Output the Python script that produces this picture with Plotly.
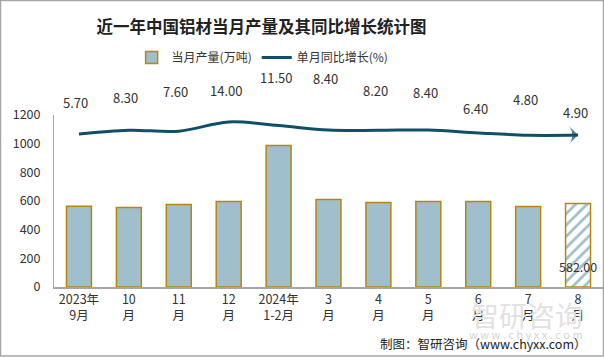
import plotly.graph_objects as go

categories = ["2023年<br>9月", "10<br>月", "11<br>月", "12<br>月", "2024年<br>1-2月",
              "3<br>月", "4<br>月", "5<br>月", "6<br>月", "7<br>月", "8<br>月"]
production = [564, 555, 576, 597, 987, 611, 590, 597, 597, 562, 582]
yoy_growth = [5.70, 8.30, 7.60, 14.00, 11.50, 8.40, 8.20, 8.40, 6.40, 4.80, 4.90]
label_lift = [31, 33, 40, 31, 48, 52, 40, 38, 24, 36, 23]

FONT = "Noto Sans CJK SC, Noto Sans, sans-serif"
BAR = "#a0bfcc"
EDGE = "#b8860b"
LINE = "#0f5068"

n = len(categories)
fig = go.Figure()
fig.add_trace(go.Bar(
    x=categories, y=production, name="当月产量(万吨)",
    width=0.5,
    marker=dict(color=BAR, line=dict(color=EDGE, width=1.5),
                pattern=dict(shape=[""] * (n - 1) + ["/"], fgcolor=BAR,
                             bgcolor="white", size=8, solidity=0.35, fillmode="replace")),
))
fig.add_trace(go.Scatter(
    x=categories, y=yoy_growth, name="单月同比增长(%)", yaxis="y2",
    mode="lines+markers",
    line=dict(color=LINE, width=3, shape="spline", smoothing=1),
    marker=dict(symbol=["diamond"] + ["circle"] * (n - 2) + ["arrow-wide"],
                size=[10] + [0] * (n - 2) + [14], color=LINE,
                angleref="previous", line=dict(width=0)),
))

anns = []
# watermark (drawn first so it sits underneath)
anns.append(dict(x=1, y=0, xref="paper", yref="paper", xanchor="right", yanchor="top",
                 xshift=-18, yshift=-6, text="智研咨询", showarrow=False,
                 font=dict(family=FONT, size=28, color="#e2e2e2")))
anns.append(dict(x=1, y=0, xref="paper", yref="paper", xanchor="right", yanchor="top",
                 xshift=-18, yshift=-37, text="w w w . c h y x x . c o m", showarrow=False,
                 font=dict(family=FONT, size=11, color="#d4d4d4")))
for c, v, s in zip(categories, yoy_growth, label_lift):
    anns.append(dict(x=c, y=v, xref="x", yref="y2", text=f"{v:.2f}", showarrow=False,
                     yshift=s, xshift=-3, font=dict(family=FONT, size=13, color="#333333"),
                     xanchor="center", yanchor="middle"))
anns.append(dict(x=categories[-1], y=0, xref="x", yref="y", text=f"{production[-1]:.2f}",
                 showarrow=False, yshift=21, yanchor="middle",
                 font=dict(family=FONT, size=12.5, color="#333333")))
anns.append(dict(x=1, y=0, xref="paper", yref="paper", xanchor="right", yanchor="middle",
                 xshift=-14, yshift=-56, text="制图：智研咨询（www.chyxx.com）", showarrow=False,
                 font=dict(family=FONT, size=12.5, color="#222222")))

fig.update_layout(
    width=604, height=357,
    margin=dict(l=54, r=1, t=115, b=70, autoexpand=False),
    paper_bgcolor="white", plot_bgcolor="white",
    font=dict(family=FONT, size=12, color="#333333"),
    title=dict(text="<b>近一年中国铝材当月产量及其同比增长统计图</b>", x=261.5 / 604, xref="container",
               xanchor="center", y=0.925, yanchor="middle",
               font=dict(family=FONT, size=16.5, color="#222222")),
    showlegend=True,
    legend=dict(orientation="h", x=0.38, xanchor="center", y=1.335, yanchor="middle",
                font=dict(family=FONT, size=12, color="#333333"), itemwidth=30,
                bgcolor="rgba(0,0,0,0)"),
    bargap=0.5,
    xaxis=dict(range=[-0.5, n - 0.5], showline=True, linecolor="#a6a6a6", linewidth=1.5,
               ticks="", automargin=False,
               tickfont=dict(family=FONT, size=12.5, color="#333333")),
    yaxis=dict(range=[0, 1200], dtick=200, showgrid=False, zeroline=False, showline=True,
               linecolor="#a6a6a6", linewidth=1, ticks="", ticklabelstandoff=10, automargin=False,
               tickfont=dict(family=FONT, size=12.5, color="#333333")),
    yaxis2=dict(overlaying="y", range=[-100.1, 18.8], visible=False),
    annotations=anns,
    shapes=[dict(type="rect", xref="paper", yref="paper",
                 x0=-53.5 / 549, x1=1 + 0.5 / 549, y0=-70 / 172 + 1 / 172, y1=1 + 114.5 / 172,
                 line=dict(color="#a6a6a6", width=1.5))],
)

fig.write_html("out.html", post_script="document.body.style.margin='0';",
               config={"displayModeBar": False})
